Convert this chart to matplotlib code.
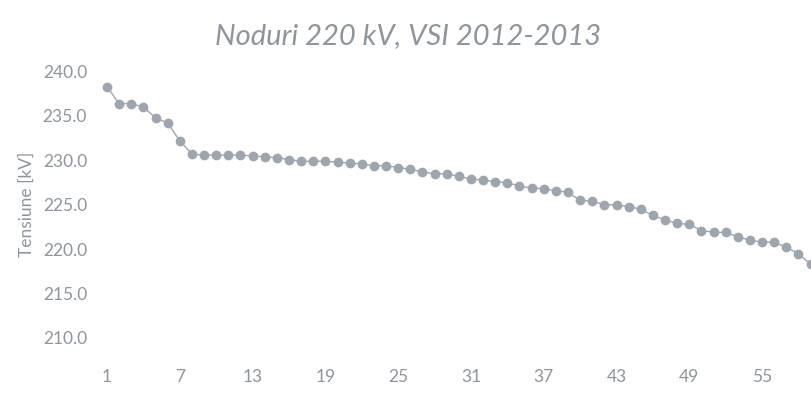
import matplotlib
matplotlib.use("Agg")
import matplotlib.pyplot as plt

title = "Noduri 220 kV, VSI 2012-2013"
ylabel = "Tensiune [kV]"
nodes = list(range(1, 60))
voltage = [238.3, 236.4, 236.4, 236.0, 234.8, 234.2, 232.2, 230.7, 230.6, 230.6,
           230.6, 230.6, 230.5, 230.4, 230.3, 230.1, 229.9, 229.9, 229.9, 229.8,
           229.7, 229.6, 229.4, 229.4, 229.2, 229.0, 228.7, 228.5, 228.5, 228.2,
           227.9, 227.8, 227.6, 227.5, 227.1, 226.9, 226.8, 226.6, 226.4, 225.5,
           225.4, 225.0, 225.0, 224.8, 224.5, 223.8, 223.3, 222.9, 222.8, 222.1,
           221.9, 221.9, 221.4, 221.0, 220.8, 220.8, 220.2, 219.5, 218.3]
xticks = list(range(1, 60, 6))
yticks = [210, 215, 220, 225, 230, 235, 240]

gray = "#9DA5AE"
txt = "#8E959C"

fig = plt.figure(figsize=(8.11, 4.0), dpi=100)
ax = fig.add_axes([0.1245, 0.155, 0.8825, 0.666])
ax.plot(nodes, voltage, color=gray, lw=1.0, marker="o", ms=6,
        markerfacecolor=gray, markeredgecolor=gray)
ax.set_xlim(0.5, 59.5)
ax.set_ylim(210, 240)
ax.set_xticks(xticks)
ax.set_xticklabels([str(t) for t in xticks])
ax.set_yticks(yticks)
ax.set_yticklabels([f"{t:.1f}" for t in yticks])
for s in ax.spines.values():
    s.set_visible(False)
ax.tick_params(axis="both", length=0, colors=txt, labelsize=12.5)
ax.tick_params(axis="x", pad=22)
ax.tick_params(axis="y", pad=10)
for lab in ax.get_xticklabels() + ax.get_yticklabels():
    lab.set_family("Lato")
ax.set_ylabel(ylabel, color=txt, fontsize=12.5, family="Lato", labelpad=6)
fig.text(0.503, 0.91, title, ha="center", va="center", color="#8E959C",
         fontsize=21, style="italic", family="Lato")
fig.savefig("out.png", dpi=100, facecolor="white")
